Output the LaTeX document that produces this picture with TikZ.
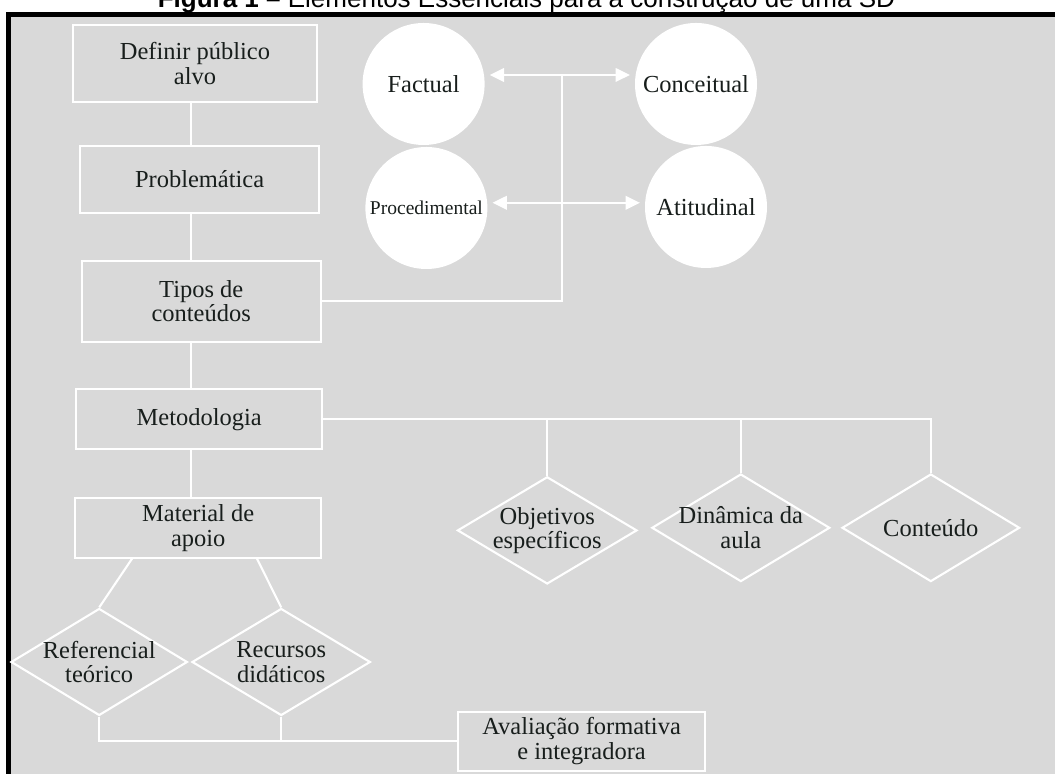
\documentclass[tikz,border=0pt]{standalone}
\usepackage{fontspec}
\setmainfont{Liberation Serif}
\newfontfamily\captionfont{Liberation Sans}
\usetikzlibrary{shapes.geometric,arrows.meta}
\definecolor{panel}{RGB}{217,217,217}
\definecolor{ink}{RGB}{24,30,28}

\begin{document}
\begin{tikzpicture}[
    txt/.style={text=ink, font=\fontsize{17.4}{17.4}\selectfont},
    box/.style={rectangle, draw=white, line width=1.5pt, align=center, inner sep=0pt, txt},
    bubble/.style={circle, fill=white, minimum size=3.05cm, inner sep=0pt, txt},
    gem/.style={diamond, draw=white, line width=1.5pt, inner sep=0pt},
    gemtext/.style={align=center, txt},
    link/.style={white, line width=1.5pt},
    arrow/.style={link, -{Triangle[length=0.36cm, width=0.34cm]}, shorten >=0.12cm}
]
    \useasboundingbox (0,0) rectangle (26.375,19.35);

    % Moldura e titulo
    \fill[white] (0,0) rectangle (26.375,19.35);
    \filldraw[fill=panel, draw=black, line width=0.125cm] (0.2125,-1) rectangle (27.5,18.99);
    \node[anchor=base, inner sep=0pt, font=\captionfont\fontsize{18.5}{18.5}\selectfont] (caption) at (13.16,19.16)
        {\textbf{Figura 1 –} Elementos Essenciais para a construção de uma SD};

    % Coluna principal
    \node[box, minimum width=6.1cm, minimum height=1.925cm] (defin) at (4.875,17.76) {Definir público\\alvo};
    \node[box, minimum width=5.975cm, minimum height=1.675cm] (probl) at (4.99,14.86) {Problemática};
    \node[box, minimum width=5.98cm, minimum height=2.03cm] (tipos) at (5.03,11.82) {Tipos de\\conteúdos};
    \node[box, minimum width=6.16cm, minimum height=1.5cm] (metod) at (4.98,8.87) {Metodologia};
    \node[box, minimum width=6.16cm, minimum height=1.485cm] (mater) at (4.955,6.15) {Material de\\apoio};

    % Tipos de conteudos
    \node[bubble] (factual) at (10.59,17.25) {Factual};
    \node[bubble] (conce) at (17.4,17.25) {Conceitual};
    \node[bubble, font=\fontsize{13.9}{13.9}\selectfont] (proce) at (10.66,14.15) {Procedimental};
    \node[bubble] (atitu) at (17.65,14.175) {Atitudinal};

    % Metodologia
    \node[gem, minimum width=4.49cm, minimum height=2.68cm, label={[gemtext]center:Objetivos\\específicos}] (objet) at (13.68,6.09) {};
    \node[gem, minimum width=4.45cm, minimum height=2.69cm, label={[gemtext]center:Dinâmica da\\aula}] (dinam) at (18.52,6.155) {};
    \node[gem, minimum width=4.44cm, minimum height=2.69cm, label={[gemtext]center:Conteúdo}] (conte) at (23.27,6.155) {};

    % Material de apoio
    \node[gem, minimum width=4.41cm, minimum height=2.675cm, label={[gemtext]center:Referencial\\teórico}] (refer) at (2.48,2.8) {};
    \node[gem, minimum width=4.46cm, minimum height=2.675cm, label={[gemtext]center:Recursos\\didáticos}] (recur) at (7.03,2.8) {};
    \node[box, minimum width=6.16cm, minimum height=1.475cm] (avali) at (14.54,0.82) {Avaliação formativa\\e integradora};

    \coordinate (spine) at (4.78,0);
    \coordinate (jtop) at (14.06,17.475);
    \coordinate (jmid) at (14.06,14.28);

    \draw[link] (defin.south -| spine) -- (probl.north -| spine);
    \draw[link] (probl.south -| spine) -- (tipos.north -| spine);
    \draw[link] (tipos.south -| spine) -- (metod.north -| spine);
    \draw[link] (metod.south -| spine) -- (mater.north -| spine);

    \draw[link] (tipos.east) -| (jtop);
    \draw[arrow] (jtop) -- (jtop -| factual.east);
    \draw[arrow] (jtop) -- (jtop -| conce.west);
    \draw[arrow] (jmid) -- (jmid -| proce.east);
    \draw[arrow] (jmid) -- (jmid -| atitu.west);

    \draw[link] (metod.east) -- (metod.east -| conte.north) -- (conte.north);
    \draw[link] (objet.north) -- (objet.north |- metod.east);
    \draw[link] (dinam.north) -- (dinam.north |- metod.east);

    \draw[link] ([xshift=-1.655cm]mater.south) -- (refer.north);
    \draw[link] ([xshift=1.47cm]mater.south) -- (recur.north);
    \draw[link] (refer.south) -- (refer.south |- avali.west) -- (avali.west);
    \draw[link] (recur.south) -- (recur.south |- avali.west);
\end{tikzpicture}
\end{document}
